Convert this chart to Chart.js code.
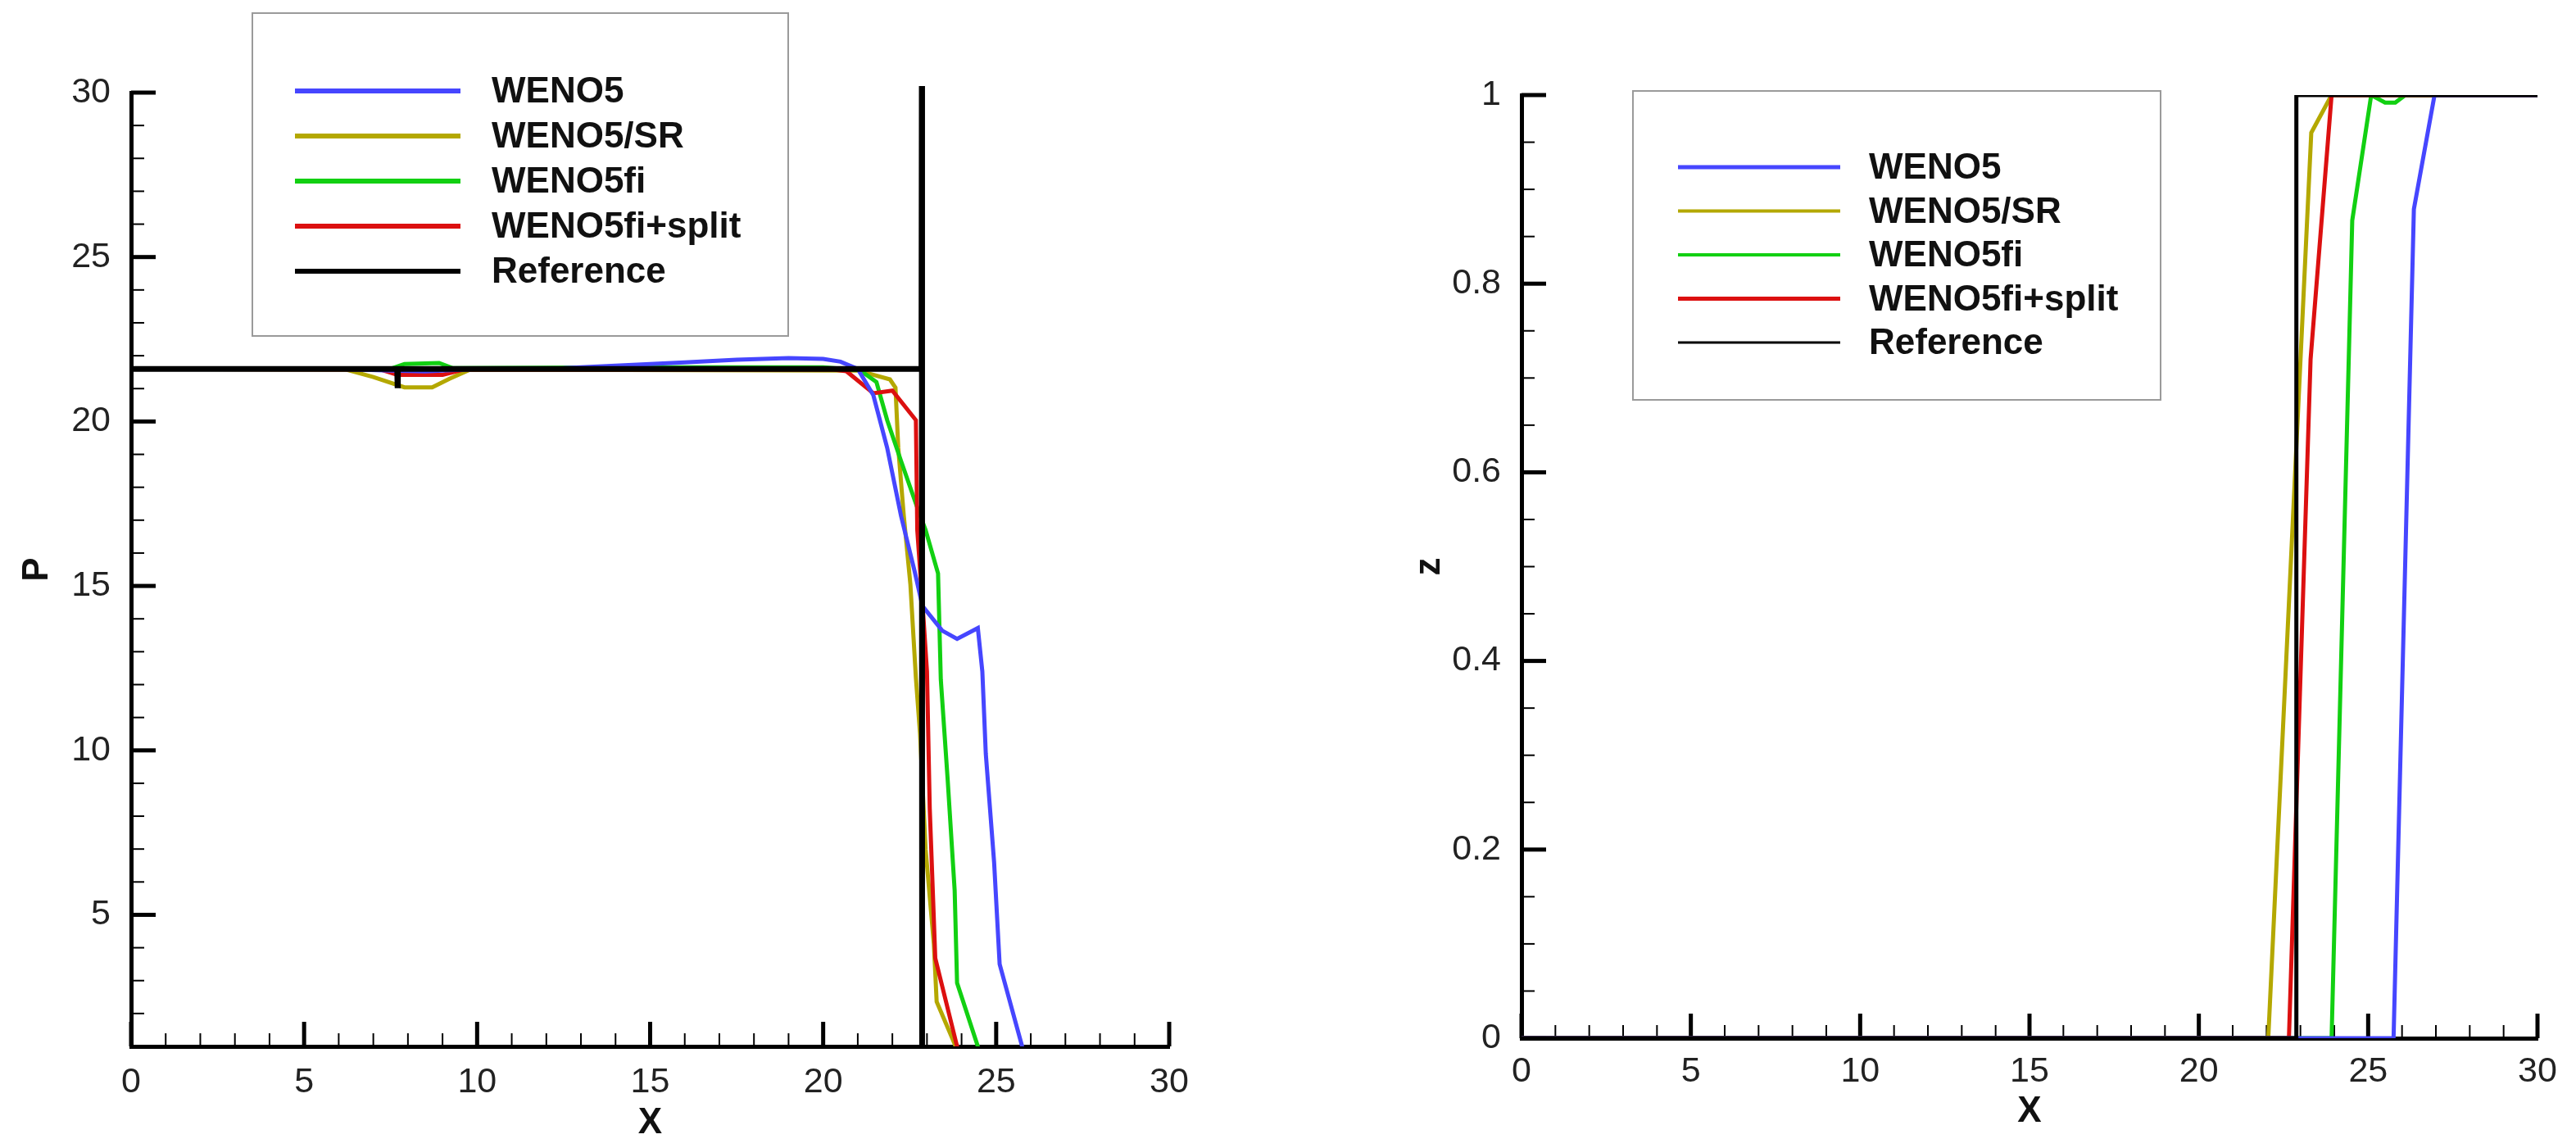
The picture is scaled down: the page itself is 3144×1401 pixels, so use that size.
<!DOCTYPE html>
<html>
<head>
<meta charset="utf-8">
<script src="https://cdn.jsdelivr.net/npm/chart.js@4.4.1/dist/chart.umd.min.js"></script>
<style>
  html, body { margin: 0; padding: 0; background: #fff; }
  #wrap { position: relative; width: 3144px; height: 1401px; }
  canvas { position: absolute; top: 0; }
  #pChart { left: 0; }
  #zChart { left: 1572px; }
</style>
</head>
<body>
<div id="wrap">
  <canvas id="pChart" width="1572" height="1401"></canvas>
  <canvas id="zChart" width="1572" height="1401"></canvas>
</div>
<script>
// ---- values ----
const seriesNames = ['WENO5', 'WENO5/SR', 'WENO5fi', 'WENO5fi+split', 'Reference'];
const seriesColors = ['#4646ff', '#b4a800', '#12d012', '#dc1010', '#000000'];

const xTicks = [0, 5, 10, 15, 20, 25, 30];
const pTicks = [5, 10, 15, 20, 25, 30];
const zTicks = [0, 0.2, 0.4, 0.6, 0.8, 1];

// left panel: pressure P
const pWeno5X = [0, 6, 7.5, 8.5, 10, 12.5, 14, 16, 17.5, 19, 20, 20.5, 21, 21.45, 21.85, 22.25, 22.64, 22.87, 23.44, 23.87, 24.47, 24.6, 24.7, 24.94, 25.1, 25.75, 25.9, 30];
const pWeno5Y = [21.6, 21.6, 21.55, 21.52, 21.6, 21.62, 21.7, 21.8, 21.88, 21.93, 21.9, 21.82, 21.6, 20.8, 19.2, 17.13, 15.46, 14.39, 13.64, 13.39, 13.72, 12.4, 9.9, 6.6, 3.5, 1.0, 0.5, 0.5];

const pSrX = [0, 6.2, 7, 7.9, 8.7, 9.2, 9.8, 21, 21.93, 22.09, 22.17, 22.33, 22.52, 22.68, 22.8, 22.96, 23.2, 23.28, 23.83, 24, 30];
const pSrY = [21.6, 21.58, 21.35, 21.04, 21.04, 21.3, 21.58, 21.55, 21.28, 21.03, 19.2, 17.13, 15.06, 12.2, 10.5, 7.0, 4.1, 2.36, 1.0, 0.5, 0.5];

const pFiX = [0, 7.5, 7.9, 8.9, 9.3, 15, 20, 21.06, 21.54, 21.85, 22.25, 22.72, 22.96, 23.32, 23.4, 23.6, 23.8, 23.87, 24.47, 24.6, 30];
const pFiY = [21.6, 21.6, 21.75, 21.78, 21.62, 21.65, 21.65, 21.56, 21.2, 20.04, 18.8, 17.38, 16.7, 15.38, 12.15, 9.08, 5.75, 2.93, 1.0, 0.5, 0.5];

const pSplitX = [0, 7.2, 7.7, 9, 9.6, 20.3, 20.67, 21.45, 22.0, 22.68, 22.72, 22.9, 23.0, 23.08, 23.24, 23.87, 24, 30];
const pSplitY = [21.6, 21.58, 21.42, 21.42, 21.58, 21.58, 21.53, 20.86, 20.94, 20.04, 16.7, 14.0, 12.4, 8.24, 3.68, 1.0, 0.5, 0.5];

const pRefX = [0, 7.69, 7.7, 7.71, 22.84, 22.85, 22.86, 30];
const pRefY = [21.6, 21.6, 21.1, 21.6, 21.6, 30.2, 0.5, 0.5];

// right panel: z
const zWeno5X = [0, 25.75, 26.35, 26.96, 30];
const zWeno5Y = [0, 0, 0.879, 1, 1];

const zSrX = [0, 22.05, 23.32, 23.92, 30];
const zSrY = [0, 0, 0.96, 1, 1];

const zFiX = [0, 23.92, 24.53, 25.09, 25.5, 25.8, 26.1, 30];
const zFiY = [0, 0, 0.867, 1, 0.992, 0.992, 1, 1];

const zSplitX = [0, 22.66, 23.3, 23.92, 30];
const zSplitY = [0, 0, 0.72, 1, 1];

const zRefX = [0, 22.88, 22.88, 30];
const zRefY = [0, 0, 1, 1];

// ---- helpers ----
Chart.defaults.font.family = '"Liberation Sans", Arial, Helvetica, sans-serif';
Chart.defaults.color = '#222';

function toPoints(xs, ys) {
    return xs.map((x, i) => ({ x: x, y: ys[i] }));
}

// tecplot style ticks pointing into the plot
const inwardTicks = {
    id: 'inwardTicks',
    beforeDatasetsDraw(chart, args, opts) {
        const { ctx, chartArea: a, scales: { x, y } } = chart;
        ctx.save();
        ctx.strokeStyle = '#000';
        ctx.lineCap = 'butt';

        const isMajor = (v, step) => Math.abs(v / step - Math.round(v / step)) < 1e-6;

        const nx = Math.round((x.max - x.min) / opts.xMinor);
        for (let i = 0; i <= nx; i++) {
            const v = x.min + i * opts.xMinor;
            const major = isMajor(v, opts.xMajor);
            const px = x.getPixelForValue(v);
            ctx.lineWidth = major ? 5 : 2;
            ctx.beginPath();
            ctx.moveTo(px, a.bottom);
            ctx.lineTo(px, a.bottom - (major ? opts.majorLen : opts.minorLen));
            ctx.stroke();
        }

        const ny = Math.round((y.max - y.min) / opts.yMinor);
        for (let i = 0; i <= ny; i++) {
            const v = y.min + i * opts.yMinor;
            const major = isMajor(v, opts.yMajor);
            const py = y.getPixelForValue(v);
            ctx.lineWidth = major ? 5 : 2;
            ctx.beginPath();
            ctx.moveTo(a.left, py);
            ctx.lineTo(a.left + (major ? opts.majorLen : opts.minorLen), py);
            ctx.stroke();
        }
        ctx.restore();
    }
};

// boxed legend sitting on top of the plot
const boxLegend = {
    id: 'boxLegend',
    afterDraw(chart, args, opts) {
        const ctx = chart.ctx;
        const [l, t, r, b] = opts.box;
        ctx.save();
        ctx.fillStyle = '#fff';
        ctx.fillRect(l, t, r - l, b - t);
        ctx.strokeStyle = '#9a9a9a';
        ctx.lineWidth = 2;
        ctx.strokeRect(l, t, r - l, b - t);

        ctx.font = 'bold 44px "Liberation Sans", Arial, sans-serif';
        ctx.textBaseline = 'middle';
        ctx.textAlign = 'left';
        chart.data.datasets.forEach((ds, i) => {
            const yy = opts.rowY + i * opts.rowGap;
            ctx.strokeStyle = ds.borderColor;
            ctx.lineWidth = opts.lineWidths[i];
            ctx.beginPath();
            ctx.moveTo(opts.lineX[0], yy);
            ctx.lineTo(opts.lineX[1], yy);
            ctx.stroke();
            ctx.fillStyle = '#111';
            ctx.fillText(ds.label, opts.textX, yy + 2);
        });
        ctx.restore();
    }
};

function makeDatasets(xsList, ysList, widths, refClip) {
    // drawing order: reference on top, then WENO5, split, fi, SR
    const drawOrder = [1, 4, 3, 2, 0];
    return xsList.map((xs, i) => ({
        label: seriesNames[i],
        data: toPoints(xs, ysList[i]),
        borderColor: seriesColors[i],
        borderWidth: widths[i],
        pointRadius: 0,
        tension: 0,
        fill: false,
        order: drawOrder[i],
        clip: i === 4 && refClip ? refClip : undefined
    }));
}

function makeOptions(cfg) {
    return {
        responsive: false,
        animation: false,
        devicePixelRatio: 1,
        layout: { padding: cfg.padding },
        plugins: {
            legend: { display: false },
            tooltip: { enabled: false },
            inwardTicks: cfg.ticks,
            boxLegend: cfg.legend
        },
        scales: {
            x: {
                type: 'linear',
                min: 0,
                max: 30,
                afterBuildTicks: (scale) => { scale.ticks = xTicks.map(v => ({ value: v })); },
                afterFit: (scale) => { scale.height = cfg.xHeight; },
                grid: { display: false },
                border: { display: true, color: '#000', width: 5 },
                ticks: { font: { size: 43 }, padding: cfg.xPad, maxRotation: 0 },
                title: {
                    display: true, text: 'X', color: '#111',
                    font: { size: 44, weight: 'bold' },
                    padding: { top: 0, bottom: cfg.xTitlePad }
                }
            },
            y: {
                type: 'linear',
                min: cfg.yMin,
                max: cfg.yMax,
                afterBuildTicks: (scale) => { scale.ticks = cfg.yTicks.map(v => ({ value: v })); },
                afterFit: (scale) => { scale.width = cfg.yWidth; },
                grid: { display: false },
                border: { display: true, color: '#000', width: 5 },
                ticks: {
                    font: { size: 43 }, padding: 17,
                    callback: (v) => String(+Number(v).toFixed(2))
                },
                title: {
                    display: true, text: cfg.yTitle, color: '#111',
                    font: { size: 44, weight: 'bold' },
                    padding: { top: cfg.yTitlePad, bottom: 0 }
                }
            }
        }
    };
}

new Chart(document.getElementById('pChart'), {
    type: 'line',
    data: {
        datasets: makeDatasets(
            [pWeno5X, pSrX, pFiX, pSplitX, pRefX],
            [pWeno5Y, pSrY, pFiY, pSplitY, pRefY],
            [5, 5, 5, 5, 7],
            { left: 4, top: 14, right: 4, bottom: 3 }
        )
    },
    options: makeOptions({
        padding: { left: 0, top: 113, right: 145, bottom: 0 },
        xHeight: 124, yWidth: 160, xPad: 10, xTitlePad: 4, yTitlePad: 19,
        yMin: 1, yMax: 30, yTicks: pTicks, yTitle: 'P',
        ticks: { xMinor: 1, xMajor: 5, yMinor: 1, yMajor: 5, majorLen: 30, minorLen: 16 },
        legend: {
            box: [308, 16, 962, 410], lineX: [360, 562], textX: 600,
            rowY: 111, rowGap: 55, lineWidths: [6, 6, 6, 6, 6]
        }
    }),
    plugins: [inwardTicks, boxLegend]
});

new Chart(document.getElementById('zChart'), {
    type: 'line',
    data: {
        datasets: makeDatasets(
            [zWeno5X, zSrX, zFiX, zSplitX, zRefX],
            [zWeno5Y, zSrY, zFiY, zSplitY, zRefY],
            [5, 5, 5, 5, 5],
            null
        )
    },
    options: makeOptions({
        padding: { left: 0, top: 116, right: 47, bottom: 0 },
        xHeight: 134, yWidth: 285, xPad: 7, xTitlePad: 18, yTitlePad: 146,
        yMin: 0, yMax: 1, yTicks: zTicks, yTitle: 'z',
        ticks: { xMinor: 1, xMajor: 5, yMinor: 0.05, yMajor: 0.2, majorLen: 30, minorLen: 16 },
        legend: {
            box: [421, 111, 1065, 488], lineX: [476, 674], textX: 709,
            rowY: 204, rowGap: 53.5, lineWidths: [5, 4, 4, 5, 3]
        }
    }),
    plugins: [inwardTicks, boxLegend]
});
</script>
</body>
</html>
